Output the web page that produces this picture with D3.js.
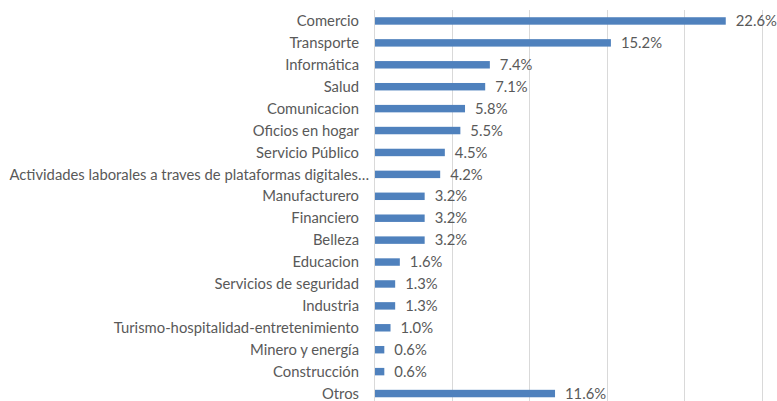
<!DOCTYPE html>
<html>
<head>
<meta charset="utf-8">
<script src="https://cdn.jsdelivr.net/npm/d3@7"></script>
<style>
  body { margin: 0; background: #fff; }
  svg { display: block; font-family: Lato, 'Open Sans', sans-serif; }
</style>
</head>
<body>
<div id="chart"></div>
<script>
const categories = [
  'Comercio', 'Transporte', 'Informática', 'Salud', 'Comunicacion',
  'Oficios en hogar', 'Servicio Público',
  'Actividades laborales a traves de plataformas digitales…',
  'Manufacturero', 'Financiero', 'Belleza', 'Educacion',
  'Servicios de seguridad', 'Industria',
  'Turismo-hospitalidad-entretenimiento', 'Minero y energía',
  'Construcción', 'Otros'
]
const values = [22.6, 15.2, 7.4, 7.1, 5.8, 5.5, 4.5, 4.2, 3.2, 3.2, 3.2, 1.6, 1.3, 1.3, 1.0, 0.6, 0.6, 11.6]
const xTicks = [0, 5, 10, 15, 20, 25]

const width = 777
const height = 401
const margin = { top: 10, right: 15, bottom: -3, left: 374 }
const fontSize = 14.8

const svg = d3.select('#chart').append('svg')
  .attr('width', width)
  .attr('height', height)

const x = d3.scaleLinear()
  .domain([0, 25])
  .range([margin.left, width - margin.right])

const y = d3.scaleBand()
  .domain(categories)
  .range([margin.top, height - margin.bottom + 0.5])
  .paddingInner(0.66)
  .paddingOuter(0.33)

// gridlines
svg.append('g')
  .selectAll('line')
  .data(xTicks)
  .join('line')
    .attr('x1', d => Math.round(x(d)) + 0.5)
    .attr('x2', d => Math.round(x(d)) + 0.5)
    .attr('y1', margin.top)
    .attr('y2', height)
    .attr('stroke', '#d9d9d9')
    .attr('stroke-width', 1)

// bars
svg.append('g')
  .selectAll('rect')
  .data(values)
  .join('rect')
    .attr('x', x(0) + 1)
    .attr('y', (d, i) => y(categories[i]))
    .attr('width', d => x(d) - x(0))
    .attr('height', y.bandwidth())
    .attr('fill', '#4f81bd')

// category labels
svg.append('g')
  .selectAll('text')
  .data(categories)
  .join('text')
    .attr('x', (d, i) => i === 7 ? 369 : 359)
    .attr('y', d => y(d) + y.bandwidth() / 2)
    .attr('dy', '0.35em')
    .attr('text-anchor', 'end')
    .attr('fill', '#595959')
    .attr('font-size', fontSize)
    .text(d => d)

// value labels
svg.append('g')
  .selectAll('text')
  .data(values)
  .join('text')
    .attr('x', d => x(d) + 11)
    .attr('y', (d, i) => y(categories[i]) + y.bandwidth() / 2)
    .attr('dy', '0.35em')
    .attr('fill', '#595959')
    .attr('font-size', fontSize)
    .text(d => d.toFixed(1) + '%')
</script>
</body>
</html>
